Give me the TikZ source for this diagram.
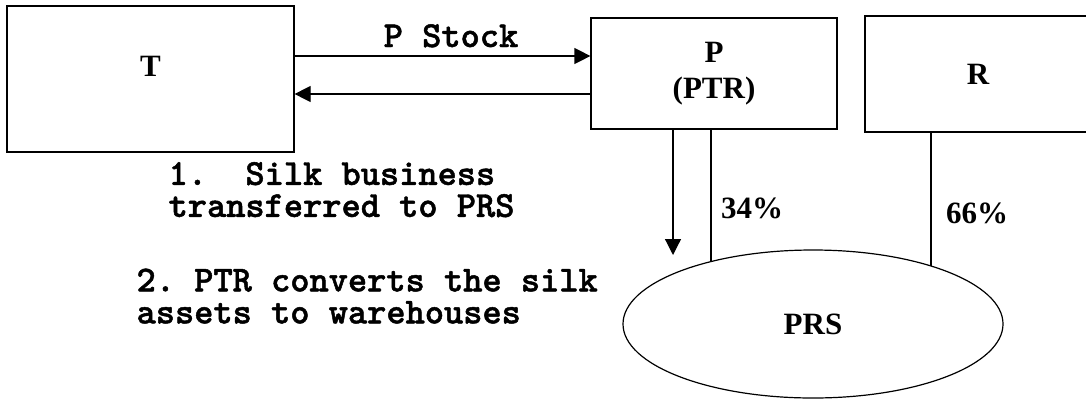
\documentclass[tikz,border=0pt]{standalone}
\usepackage{fontspec}
\setmainfont{Liberation Serif}
\newfontfamily\monob[FakeBold=1.3]{lmmonolt10-bold.otf}
\usetikzlibrary{arrows.meta,shapes.geometric}
\frenchspacing
\begin{document}
\begin{tikzpicture}[x=1pt,y=-1pt,line width=1.2pt,
  arr/.style={-{Triangle[length=16pt,width=16pt]}},
  boxnode/.style={draw,rectangle,inner sep=0pt,font=\fontsize{31}{36}\selectfont\bfseries,align=center},
  serif/.style={inner sep=0pt,font=\fontsize{31}{36}\selectfont\bfseries},
  mono/.style={inner sep=0pt,font=\fontsize{36.6}{32}\selectfont\monob,align=left}]
\useasboundingbox (0,0) rectangle (1086,400);
\node[boxnode,minimum width=287pt,minimum height=146pt] (T) at (150.5,79) {\raisebox{3pt}[0pt][0pt]{T}};
\node[boxnode,minimum width=246pt,minimum height=111pt] (P) at (714,73.5) {P\\(PTR)};
\node[boxnode,minimum width=226pt,minimum height=116pt] (R) at (978,74) {R};
\node[draw,ellipse,inner sep=0pt,minimum width=380pt,minimum height=148pt,font=\fontsize{31}{36}\selectfont\bfseries] (PRS) at (813,324) {PRS};
\coordinate (a1) at (0,56);
\coordinate (a2) at (0,94);
\draw[arr] (T.east |- a1) -- (P.west |- a1);
\draw[arr] (P.west |- a2) -- (T.east |- a2);
\node[mono,anchor=base] (ps) at (451,47) {P Stock};
\coordinate (d1) at (673,255);
\draw[arr] (P.south -| d1) -- (d1);
\coordinate (e1) at (711,262);
\draw (P.south -| e1) -- (e1);
\coordinate (e2) at (931,266);
\draw (R.south -| e2) -- (e2);
\node[serif] (p34) at (752,208) {34\%};
\node[serif] (p66) at (977,213) {66\%};
\node[mono,anchor=north west] (n1) at (168,161.5) {1.~~Silk business\\transferred to PRS};
\node[mono,anchor=north west] (n2) at (136,268) {2. PTR converts the silk\\assets to warehouses};
\end{tikzpicture}
\end{document}
